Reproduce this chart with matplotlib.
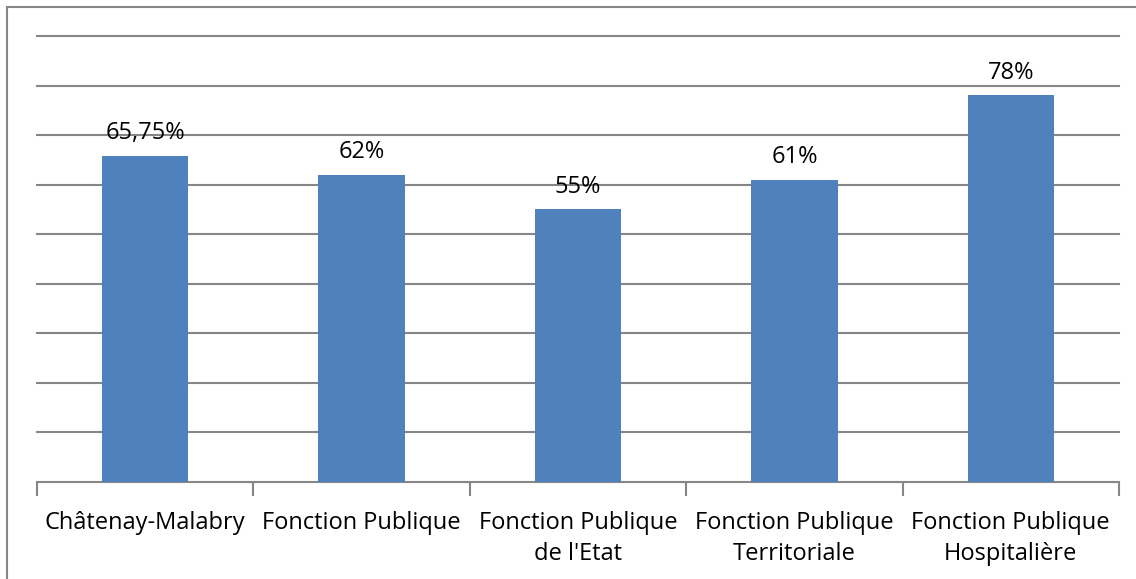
import matplotlib.pyplot as plt
from matplotlib.patches import Rectangle

categories = ["Châtenay-Malabry", "Fonction Publique", "Fonction Publique\nde l'Etat",
              "Fonction Publique\nTerritoriale", "Fonction Publique\nHospitalière"]
values = [65.75, 62, 55, 61, 78]

plt.rcParams['font.family'] = ['Open Sans', 'DejaVu Sans']

fig = plt.figure(figsize=(11.36, 5.79), dpi=100)
ax = fig.add_axes([37 / 1136, 1 - 482 / 579, (1119 - 37) / 1136, (482 - 36) / 579])

grid_color = '#868686'
bar_color = '#4F81BD'

x = range(len(categories))
bars = ax.bar(x, values, width=0.4, color=bar_color, zorder=3)

# horizontal gridlines every 10 %
ax.set_ylim(0, 90)
ax.set_xlim(-0.5, len(categories) - 0.5)
for yv in range(10, 91, 10):
    ax.axhline(yv, color=grid_color, linewidth=1.5, zorder=1, clip_on=False)

# value labels in French notation
def fmt(v):
    if float(v).is_integer():
        return f"{int(v)}%"
    return f"{v:.2f}".replace('.', ',') + "%"

for b, v in zip(bars, values):
    ax.text(b.get_x() + b.get_width() / 2, v + 2.2, fmt(v),
            ha='center', va='bottom', fontsize=17, color='black')

for s in ['top', 'right', 'left']:
    ax.spines[s].set_visible(False)
ax.spines['bottom'].set_color(grid_color)
ax.spines['bottom'].set_linewidth(1.5)

ax.set_yticks([])
# ticks sit on the category boundaries, labels in the middle
ax.set_xticks([i - 0.5 for i in range(len(categories) + 1)])
ax.set_xticklabels([])
ax.tick_params(axis='x', direction='out', length=10, width=1.5, color=grid_color)
for i, c in enumerate(categories):
    ax.text(i, -5.8, c, ha='center', va='top', fontsize=17, color='black',
            linespacing=1.4)

# outer chart frame
fig.patches.append(Rectangle((7 / 1136, -0.1), 1.2, 1 - 7 / 579 + 0.1,
                             transform=fig.transFigure, fill=False,
                             edgecolor='#868686', linewidth=1.5))

fig.savefig('out.png', dpi=100)
